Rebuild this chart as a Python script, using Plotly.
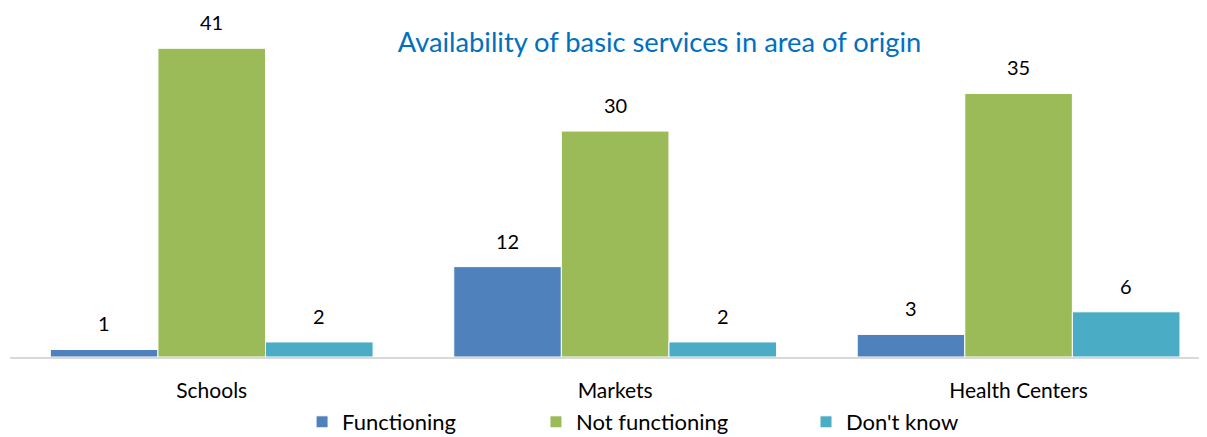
import plotly.graph_objects as go

categories = ["Schools", "Markets", "Health Centers"]
series_names = ["Functioning", "Not functioning", "Don't know"]
functioning = [1, 12, 3]
not_functioning = [41, 30, 35]
dont_know = [2, 2, 6]
colors = ["#4F81BD", "#9BBB59", "#4BACC6"]

values = [functioning, not_functioning, dont_know]
x_pos = list(range(len(categories)))
FONT = "Lato, Open Sans, sans-serif"

legend_ids = ["legend", "legend2", "legend3"]
legend_x = [0.244, 0.4394, 0.665]

fig = go.Figure()
for name, vals, col, lid in zip(series_names, values, colors, legend_ids):
    fig.add_trace(go.Bar(
        x=x_pos, y=vals, name=name, legend=lid,
        marker=dict(color=col, line=dict(color="white", width=1)),
    ))

# value labels above bars
annotations = []
n = len(series_names)
group_w = 0.8
bar_w = group_w / n
for i, vals in enumerate(values):
    for j, v in enumerate(vals):
        xc = x_pos[j] - group_w / 2 + bar_w * (i + 0.5)
        annotations.append(dict(
            x=xc, y=v, xref="x", yref="y", text=str(v), showarrow=False,
            yanchor="middle", yshift=26,
            font=dict(family=FONT, size=20, color="#000000"),
        ))

legend_y = -(414 - 349) / 349
leg_common = dict(
    orientation="h", xanchor="left", y=legend_y, yanchor="middle",
    font=dict(family=FONT, size=22, color="#000000"),
    bgcolor="rgba(0,0,0,0)", itemwidth=30,
)

fig.update_layout(
    width=1199, height=429,
    margin=dict(l=2, r=0, t=0, b=80, autoexpand=False),
    paper_bgcolor="white", plot_bgcolor="white",
    barmode="group", bargap=0.2, bargroupgap=0,
    title=dict(
        text="Availability of basic services in area of origin",
        x=0.5426, xanchor="center", xref="paper",
        y=1 - 34 / 429, yanchor="middle",
        font=dict(family=FONT, size=27.3, color="#0070C0"),
    ),
    xaxis=dict(
        range=[-0.5, 2.467],
        tickmode="array", tickvals=x_pos, ticktext=categories,
        showline=True, linecolor="#D9D9D9", linewidth=2,
        showgrid=False, zeroline=False, ticks="",
        tickfont=dict(family=FONT, size=21, color="#000000"),
        ticklabelstandoff=14,
    ),
    yaxis=dict(
        range=[0, 349 / 7.53], visible=False, showgrid=False, zeroline=False,
    ),
    legend=dict(x=legend_x[0], **leg_common),
    legend2=dict(x=legend_x[1], **leg_common),
    legend3=dict(x=legend_x[2], **leg_common),
    annotations=annotations,
    showlegend=True,
)

fig.write_html("out.html")
